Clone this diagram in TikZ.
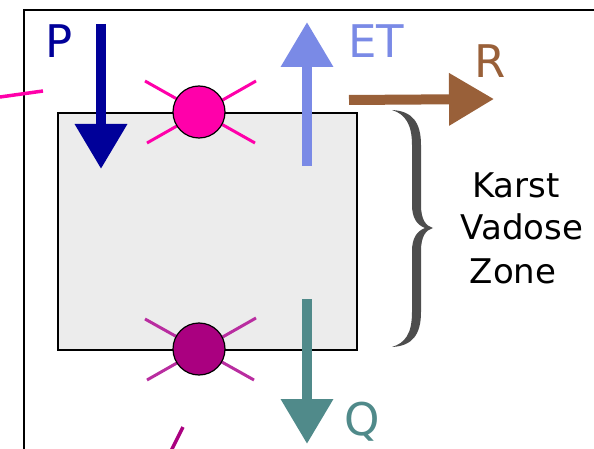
\documentclass[tikz,border=0pt]{standalone}
\usepackage{fontspec}
\setmainfont{DejaVu Sans}
\usetikzlibrary{arrows.meta}
\definecolor{pcol}{RGB}{0,0,153}
\definecolor{etcol}{RGB}{122,138,230}
\definecolor{rcol}{RGB}{153,96,57}
\definecolor{qcol}{RGB}{80,138,138}
\definecolor{magcol}{RGB}{255,0,170}
\definecolor{purcol}{RGB}{170,0,128}
\definecolor{purray}{RGB}{185,45,160}
\definecolor{boxgray}{RGB}{236,236,236}
\definecolor{bracegray}{RGB}{77,77,77}
\tikzset{
  flux/.style={line width=10pt, -{Triangle[width=50pt,length=45pt]}},
  fluxlabel/.style={font=\fontsize{45}{54}\selectfont, anchor=base, inner sep=0pt},
  zonetext/.style={font=\fontsize{34}{43}\selectfont, anchor=base, inner sep=0pt},
  ray/.style={line width=3pt},
  spot/.style={circle, draw=black, line width=1.2pt, minimum size=52pt, inner sep=0pt},
}
\begin{document}
\begin{tikzpicture}[x=1pt,y=-1pt]
\useasboundingbox (0,0) rectangle (594,449);
\clip (0,0) rectangle (594,449);
% frame
\draw[line width=2pt] (24,460) -- (24,10) -- (600,10);
% box
\node[draw=black, line width=2pt, fill=boxgray, minimum width=299pt, minimum height=237pt, inner sep=0pt] (box) at (207.5,231.5) {};
% stray lines
\coordinate (m1) at (0,97); \coordinate (m2) at (43,91);
\draw[magcol, line width=3.5pt] (m1) -- (m2);
\coordinate (u1) at (183,427); \coordinate (u2) at (169,455);
\draw[purcol, line width=3.5pt] (u1) -- (u2);
% fluxes
\coordinate (p1) at (101,24); \coordinate (p2) at (101,169);
\draw[flux, pcol] (p1) -- (p2);
\coordinate (et1) at (307,166); \coordinate (et2) at (307,22);
\draw[flux, etcol] (et1) -- (et2);
\coordinate (r1) at (349,100); \coordinate (r2) at (494,99);
\draw[flux, rcol] (r1) -- (r2);
\coordinate (q1) at (307,299); \coordinate (q2) at (307,444);
\draw[flux, qcol] (q1) -- (q2);
% top spot
\coordinate (ta) at (145,81); \coordinate (tb) at (255,143);
\coordinate (tc) at (147,143); \coordinate (td) at (256,81);
\draw[ray, magcol] (ta) -- (tb);
\draw[ray, magcol] (tc) -- (td);
\node[spot, fill=magcol] (topspot) at (199,112) {};
% bottom spot
\coordinate (ba) at (145,319); \coordinate (bb) at (254,380);
\coordinate (bc) at (147,380); \coordinate (bd) at (256,318);
\draw[ray, purray] (ba) -- (bb);
\draw[ray, purray] (bc) -- (bd);
\node[spot, fill=purcol] (botspot) at (199,349) {};
% labels
\node[fluxlabel, text=pcol] (plab) at (59,58) {P};
\node[fluxlabel, text=etcol] (etlab) at (376.5,58) {ET};
\node[fluxlabel, text=rcol] (rlab) at (490,78) {R};
\node[fluxlabel, text=qcol] (qlab) at (362.5,435) {Q};
% brace
\fill[bracegray] (392,110) .. controls (412,111) and (421,122) .. (421,145)
  -- (421,205) .. controls (421,220) and (426,226) .. (433,228)
  .. controls (426,230) and (421,236) .. (421,251)
  -- (421,312) .. controls (421,335) and (412,346) .. (392,347)
  .. controls (405,343) and (412,334) .. (412,312)
  -- (412,251) .. controls (412,238) and (417,231) .. (425,228)
  .. controls (417,225) and (412,218) .. (412,205)
  -- (412,145) .. controls (412,124) and (405,114) .. (392,110) -- cycle;
% zone text
\node[zonetext] (karst) at (516,197) {Karst};
\node[zonetext] (vadose) at (522,240) {Vadose};
\node[zonetext] (zone) at (513,283) {Zone};
\end{tikzpicture}
\end{document}
